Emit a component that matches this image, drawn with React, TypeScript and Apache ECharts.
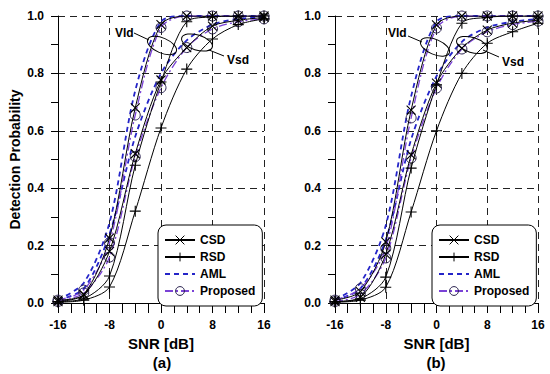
import React, { useEffect, useRef } from "react";
import * as echarts from "echarts";

// SNR axis values (dB)
const SNR = [-16, -12, -8, -4, 0, 4, 8, 12, 16];
const X_TICKS = [-16, -8, 0, 8, 16];
const Y_TICKS = [0.0, 0.2, 0.4, 0.6, 0.8, 1.0];
const LEGEND_NAMES = ["CSD", "RSD", "AML", "Proposed"];

// Panel (a)
const A_VLD_CSD = [0.01, 0.03, 0.226, 0.68, 0.97, 1.0, 1.0, 1.0, 1.0];
const A_VLD_RSD = [0.005, 0.015, 0.094, 0.48, 0.77, 0.98, 0.997, 1.0, 1.0];
const A_VLD_AML = [0.012, 0.07, 0.28, 0.74, 0.98, 1.0, 1.0, 1.0, 1.0];
const A_VLD_PROP = [0.01, 0.045, 0.21, 0.655, 0.96, 1.0, 1.0, 1.0, 1.0];
const A_VSD_CSD = [0.005, 0.028, 0.18, 0.52, 0.777, 0.89, 0.965, 0.985, 0.995];
const A_VSD_RSD = [0.003, 0.01, 0.056, 0.32, 0.61, 0.815, 0.92, 0.97, 0.99];
const A_VSD_AML = [0.01, 0.05, 0.24, 0.58, 0.8, 0.915, 0.97, 0.99, 0.995];
const A_VSD_PROP = [0.005, 0.035, 0.16, 0.51, 0.75, 0.89, 0.955, 0.98, 0.99];

// Panel (b)
const B_VLD_CSD = [0.01, 0.04, 0.213, 0.672, 0.969, 1.0, 1.0, 1.0, 1.0];
const B_VLD_RSD = [0.005, 0.015, 0.09, 0.47, 0.76, 0.975, 0.995, 1.0, 1.0];
const B_VLD_AML = [0.012, 0.07, 0.27, 0.72, 0.98, 1.0, 1.0, 1.0, 1.0];
const B_VLD_PROP = [0.01, 0.05, 0.19, 0.645, 0.958, 1.0, 1.0, 1.0, 1.0];
const B_VSD_CSD = [0.005, 0.02, 0.17, 0.516, 0.766, 0.888, 0.951, 0.975, 0.985];
const B_VSD_RSD = [0.003, 0.01, 0.055, 0.317, 0.6, 0.8, 0.905, 0.945, 0.975];
const B_VSD_AML = [0.01, 0.05, 0.22, 0.57, 0.79, 0.91, 0.96, 0.98, 0.99];
const B_VSD_PROP = [0.005, 0.03, 0.157, 0.505, 0.749, 0.885, 0.945, 0.97, 0.982];

const FONT = "'Liberation Sans', Arial, sans-serif";
const BLUE = "#2424c8";
const PURPLE = "#7a42d6";

const X_SYMBOL = "path://M0,0L10,10M10,0L0,10";
const PLUS_SYMBOL = "path://M5,0L5,10M0,5L10,5";

function styleFor(kind: string) {
  if (kind === "CSD")
    return {
      symbol: X_SYMBOL,
      symbolSize: 9,
      itemStyle: { color: "#000", borderColor: "#000", borderWidth: 1.1 },
      lineStyle: { color: "#000", width: 1, type: "solid" },
      z: 5,
    };
  if (kind === "RSD")
    return {
      symbol: PLUS_SYMBOL,
      symbolSize: 11,
      itemStyle: { color: "#000", borderColor: "#000", borderWidth: 1.1 },
      lineStyle: { color: "#000", width: 1, type: "solid" },
      z: 5,
    };
  if (kind === "AML")
    return {
      symbol: "circle",
      showSymbol: false,
      itemStyle: { color: "transparent", borderColor: "transparent", borderWidth: 0 },
      lineStyle: { color: BLUE, width: 1.8, type: [5, 4] },
      z: 3,
    };
  return {
    symbol: "circle",
    symbolSize: 10,
    itemStyle: { color: "transparent", borderColor: "#2a2250", borderWidth: 1 },
    lineStyle: { color: PURPLE, width: 1.3, type: [8, 3, 2, 3] },
    z: 4,
  };
}

function mkSeries(kind: string, vals: number[], axis: number) {
  return {
    name: kind,
    type: "line",
    xAxisIndex: axis,
    yAxisIndex: axis,
    data: SNR.map((x, i) => [x, vals[i]]),
    smooth: 0.3,
    ...styleFor(kind),
  };
}

function xAxis(gridIndex: number) {
  return {
    type: "value",
    gridIndex,
    min: -16,
    max: 16,
    interval: 8,
    name: "SNR [dB]",
    nameLocation: "middle",
    nameGap: 31,
    nameTextStyle: { fontFamily: FONT, fontSize: 15, fontWeight: "bold", color: "#000" },
    axisLine: { show: true, onZero: false, lineStyle: { color: "#000", width: 1 } },
    axisTick: { show: true, length: 10, lineStyle: { color: "#000", width: 1 } },
    minorTick: { show: true, splitNumber: 4, length: 10, lineStyle: { color: "#000", width: 1 } },
    axisLabel: {
      fontFamily: FONT,
      fontSize: 12,
      fontWeight: "bold",
      color: "#000",
      margin: 16,
      formatter: (v: number) => (X_TICKS.includes(v) ? String(v) : ""),
    },
    splitLine: { show: true, showMinLine: false, lineStyle: { color: "#222", type: [7, 5], width: 1 } },
  };
}

function yAxis(gridIndex: number, withName: boolean) {
  return {
    type: "value",
    gridIndex,
    min: 0,
    max: 1,
    interval: 0.2,
    name: withName ? "Detection Probability" : "",
    nameLocation: "middle",
    nameGap: 36,
    nameTextStyle: { fontFamily: FONT, fontSize: 14, fontWeight: "bold", color: "#000" },
    axisLine: { show: true, onZero: false, lineStyle: { color: "#000", width: 1 } },
    axisTick: { show: true, length: 7, lineStyle: { color: "#000", width: 1 } },
    minorTick: { show: true, splitNumber: 2, length: 7, lineStyle: { color: "#000", width: 1 } },
    axisLabel: {
      fontFamily: FONT,
      fontSize: 12,
      fontWeight: "bold",
      color: "#000",
      margin: 14,
      formatter: (v: number) => {
        const t = Y_TICKS.find((k) => Math.abs(k - v) < 1e-6);
        return t === undefined ? "" : t.toFixed(1);
      },
    },
    splitLine: { show: true, showMinLine: false, lineStyle: { color: "#222", type: [7, 5], width: 1 } },
  };
}

function legend(left: number) {
  return {
    orient: "vertical",
    left,
    top: 225,
    data: LEGEND_NAMES,
    itemWidth: 30,
    itemHeight: 11,
    itemGap: 5,
    padding: [9, 7, 9, 6],
    borderColor: "#000",
    borderWidth: 1,
    borderRadius: 8,
    backgroundColor: "#fff",
    selectedMode: false,
    itemStyle: { borderWidth: 1 },
    textStyle: { fontFamily: FONT, fontSize: 12, fontWeight: "bold", color: "#000" },
  };
}

const TXT = { fontFamily: FONT, fontWeight: "bold", fill: "#000" };

function annot(
  vld: [number, number],
  vldLine: number[],
  vldEll: [number, number],
  vsd: [number, number],
  vsdLine: number[],
  vsdEll: [number, number]
) {
  return [
    { type: "text", x: vld[0], y: vld[1], style: { ...TXT, text: "Vld", fontSize: 12, textVerticalAlign: "middle" }, z: 20 },
    { type: "line", shape: { x1: vldLine[0], y1: vldLine[1], x2: vldLine[2], y2: vldLine[3] }, style: { stroke: "#000", lineWidth: 1 }, z: 20 },
    { type: "ellipse", x: vldEll[0], y: vldEll[1], rotation: -0.4, shape: { cx: 0, cy: 0, rx: 15.5, ry: 7.5 }, style: { fill: "none", stroke: "#000", lineWidth: 1 }, z: 20 },
    { type: "text", x: vsd[0], y: vsd[1], style: { ...TXT, text: "Vsd", fontSize: 12, textVerticalAlign: "middle" }, z: 20 },
    { type: "line", shape: { x1: vsdLine[0], y1: vsdLine[1], x2: vsdLine[2], y2: vsdLine[3] }, style: { stroke: "#000", lineWidth: 1 }, z: 20 },
    { type: "ellipse", x: vsdEll[0], y: vsdEll[1], rotation: -0.3, shape: { cx: 0, cy: 0, rx: 16, ry: 7.5 }, style: { fill: "none", stroke: "#000", lineWidth: 1 }, z: 20 },
  ];
}

export default function App() {
  const ref = useRef<HTMLDivElement>(null);
  useEffect(() => {
    if (!ref.current) return;
    const chart = echarts.init(ref.current, undefined, { renderer: "svg" });
    const option = {
      animation: false,
      backgroundColor: "#fff",
      grid: [
        { left: 58, top: 16, width: 206, height: 287 },
        { left: 335, top: 16, width: 203, height: 287 },
      ],
      xAxis: [xAxis(0), xAxis(1)],
      yAxis: [yAxis(0, true), yAxis(1, false)],
      legend: [legend(158), legend(432)],
      series: [
        mkSeries("AML", A_VLD_AML, 0),
        mkSeries("AML", A_VSD_AML, 0),
        mkSeries("Proposed", A_VLD_PROP, 0),
        mkSeries("Proposed", A_VSD_PROP, 0),
        mkSeries("CSD", A_VLD_CSD, 0),
        mkSeries("CSD", A_VSD_CSD, 0),
        mkSeries("RSD", A_VLD_RSD, 0),
        mkSeries("RSD", A_VSD_RSD, 0),
        mkSeries("AML", B_VLD_AML, 1),
        mkSeries("AML", B_VSD_AML, 1),
        mkSeries("Proposed", B_VLD_PROP, 1),
        mkSeries("Proposed", B_VSD_PROP, 1),
        mkSeries("CSD", B_VLD_CSD, 1),
        mkSeries("CSD", B_VSD_CSD, 1),
        mkSeries("RSD", B_VLD_RSD, 1),
        mkSeries("RSD", B_VSD_RSD, 1),
      ],
      graphic: [
        ...annot([115, 33], [134, 33, 149, 40], [162, 45.5], [227, 60], [209, 50, 224, 56], [197, 42.5]),
        ...annot([388, 33], [408, 36, 422, 42], [435, 47], [502, 62], [483, 50, 499, 57], [472, 45]),
        { type: "text", x: 162, y: 362, style: { ...TXT, text: "(a)", fontSize: 15, textAlign: "center", textVerticalAlign: "middle" } },
        { type: "text", x: 436, y: 362, style: { ...TXT, text: "(b)", fontSize: 15, textAlign: "center", textVerticalAlign: "middle" } },
      ],
    };
    chart.setOption(option as any);
    return () => chart.dispose();
  }, []);
  return <div ref={ref} style={{ width: 550, height: 374, position: "absolute", left: 0, top: 0 }} />;
}
